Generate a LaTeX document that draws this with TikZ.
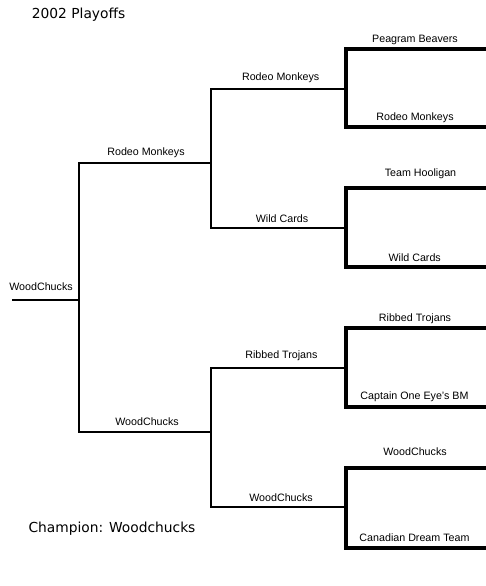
\documentclass[tikz,border=0pt]{standalone}
\usepackage{fontspec}
\setmainfont{Liberation Sans}
\newfontfamily\headfont{DejaVu Sans}

\begin{document}
\begin{tikzpicture}[x=1pt,y=-1pt,
    bline/.style={line width=2pt},
    tline/.style={line width=3.6pt},
    lbl/.style={anchor=base,inner sep=0pt,font=\fontsize{10.7}{12}\selectfont},
    head/.style={anchor=base west,inner sep=0pt,font=\headfont\fontsize{13.8}{16}\selectfont}]
  \useasboundingbox (0,0) rectangle (486,586);

  % junctions of the bracket
  \coordinate (start) at (12,300);
  \coordinate (final) at (79,300);
  \coordinate (semi1) at (211,163);
  \coordinate (semi2) at (211,432);
  \foreach \y [count=\i] in {89,228,368,507}
    \coordinate (quarter\i) at (346,\y);
  \foreach \y [count=\i] in {49,127,188,267,328,407,468,548}
    \coordinate (entry\i) at (486,\y);

  % lines
  \draw[bline] (start) -- (final);
  \draw[bline] (semi1) -| (final) |- (semi2);
  \draw[bline] (quarter1) -| (semi1) |- (quarter2);
  \draw[bline] (quarter3) -| (semi2) |- (quarter4);
  \foreach \a/\b/\q in {1/2/1,3/4/2,5/6/3,7/8/4}
    \draw[tline] (entry\a) -| (quarter\q) |- (entry\b);

  % team names
  \node[lbl] (winner) at (41,290.7) {WoodChucks};
  \node[lbl] (semitop) at (146,155.5) {Rodeo Monkeys};
  \node[lbl] (semibot) at (147,425.7) {WoodChucks};
  \foreach \x/\y/\team [count=\i] in {280.7/81/Rodeo Monkeys, 282/222/Wild Cards,
      281.4/358.5/Ribbed Trojans, 281/501.7/WoodChucks}
    \node[lbl] (quartername\i) at (\x,\y) {\team};
  \foreach \x/\y/\team [count=\i] in {415/42.7/Peagram Beavers, 415/120/Rodeo Monkeys,
      420.5/176/Team Hooligan, 414.7/261.7/Wild Cards, 415/321/Ribbed Trojans,
      414.5/399.5/Captain One Eye's BM, 415/455/WoodChucks, 414.5/541.5/Canadian Dream Team}
    \node[lbl] (team\i) at (\x,\y) {\team};

  \node[head] (title) at (31.7,18.3) {2002 Playoffs};
  \node[head] (champion) at (28.3,532.3) {Champion: Woodchucks};
\end{tikzpicture}
\end{document}
